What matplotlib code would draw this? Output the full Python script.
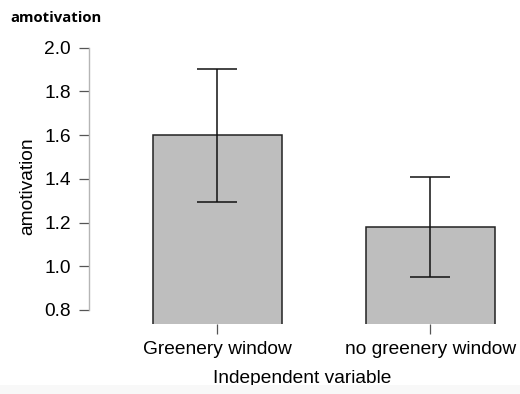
import matplotlib.pyplot as plt
from matplotlib.patches import Rectangle

# data
groups = ["Greenery window", "no greenery window"]
means = [1.60, 1.178]
ci_lower = [1.295, 0.950]
ci_upper = [1.900, 1.408]
yticks = [0.8, 1.0, 1.2, 1.4, 1.6, 1.8, 2.0]

plt.rcParams['font.family'] = ['Liberation Sans', 'DejaVu Sans']

fig = plt.figure(figsize=(5.2, 3.94), dpi=100)
# faint band at the bottom, as in the screenshot
fig.patches.append(Rectangle((0, 0), 1, 9 / 394, transform=fig.transFigure,
                             facecolor='#f8f8f8', edgecolor='none', zorder=0))

ax = fig.add_axes([89 / 520, 1 - 324 / 394, (515 - 89) / 520, (324 - 47.5) / 394])
ax.patch.set_alpha(0)

x = list(range(len(groups)))
ax.bar(x, means, width=0.605, color='#bebebe', edgecolor='#222222', linewidth=1.1, zorder=2)
yerr = [[m - lo for m, lo in zip(means, ci_lower)],
        [hi - m for m, hi in zip(means, ci_upper)]]
ax.errorbar(x, means, yerr=yerr, fmt='none', ecolor='#111111', elinewidth=1.1,
            capsize=14.5, capthick=1.1, zorder=3)

ax.set_xlim(-0.603, 1.397)
ax.set_ylim(0.736, 2.0)
ax.set_yticks(yticks)
ax.set_yticklabels([f"{v:.1f}" for v in yticks], fontsize=13.8)
ax.set_xticks(x)
ax.set_xticklabels(groups, fontsize=13.8)

for s in ['top', 'right', 'bottom']:
    ax.spines[s].set_visible(False)
ax.spines['left'].set_bounds(0.8, 2.0)
ax.spines['left'].set_color('#b5b5b5')
ax.spines['left'].set_linewidth(1.0)
ax.tick_params(axis='y', length=7, width=0.9, color='#555555', pad=6)
ax.tick_params(axis='x', length=7, width=0.9, color='#555555', pad=5)

ax.set_ylabel('amotivation', fontsize=13.8, labelpad=6)
ax.set_xlabel('Independent variable', fontsize=13.8, labelpad=9)

fig.text(10 / 520, 1 - 18 / 394, 'amotivation', fontsize=10.7, fontweight='bold',
         family=['Open Sans', 'DejaVu Sans'], va='center', ha='left')

fig.savefig('out.png', dpi=100)
